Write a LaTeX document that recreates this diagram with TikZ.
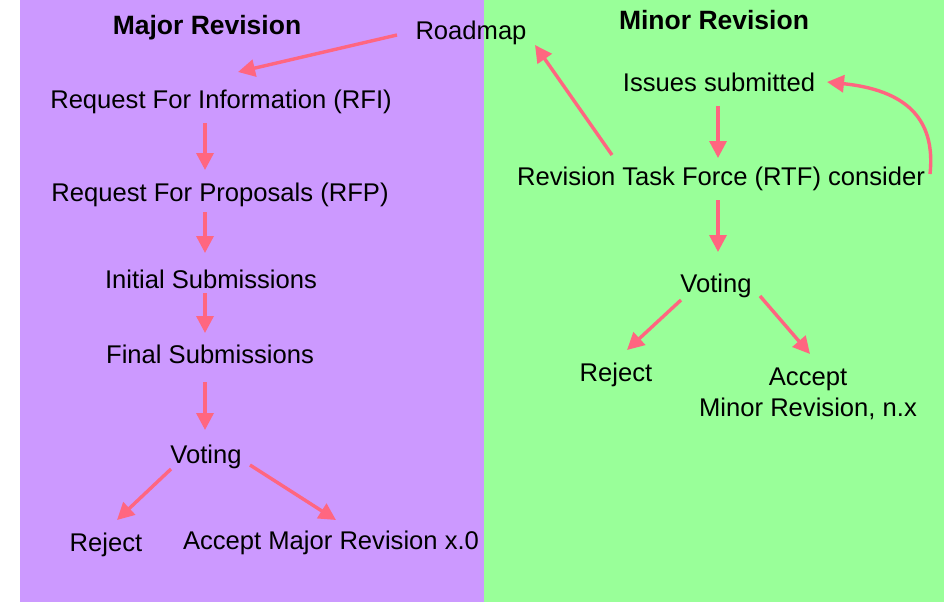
\documentclass[tikz,border=0pt]{standalone}
\usepackage{fontspec}
\setmainfont{Liberation Sans}
\usetikzlibrary{arrows.meta,calc}
\definecolor{purp}{HTML}{CC99FF}
\definecolor{grn}{HTML}{99FF99}
\definecolor{arr}{HTML}{FF6680}
\begin{document}
\begin{tikzpicture}[x=1pt,y=-1pt,
  txt/.style={inner sep=0pt,anchor=base,font=\fontsize{25.6}{31}\selectfont,align=center},
  head/.style={txt,font=\fontsize{26.5}{31}\selectfont\bfseries},
  arrow/.style={draw=arr,line width=3.4pt,-{Triangle[length=17pt,width=17pt]}}]
\useasboundingbox (0,0) rectangle (944,602);
\fill[white] (0,0) rectangle (944,602);
\fill[purp] (20,0) rectangle (484,602);
\fill[grn] (484,0) rectangle (944,602);
% left
\node[head] (majh) at (207,35) {Major Revision};
\node[txt] (road) at (471,40) {Roadmap};
\node[txt] (rfi) at (221,108) {Request For Information (RFI)};
\node[txt] (rfp) at (220,201) {Request For Proposals (RFP)};
\node[txt] (init) at (211,288) {Initial Submissions};
\node[txt] (fin) at (210,363) {Final Submissions};
\node[txt] (votl) at (206,463) {Voting};
\node[txt] (rejl) at (106,551) {Reject};
\node[txt] (accl) at (331,549) {Accept Major Revision x.0};
% right
\node[head] (minh) at (714,30) {Minor Revision};
\node[txt] (iss) at (719,91) {Issues submitted};
\node[txt] (rtf) at (721,185) {Revision Task Force (RTF) consider};
\node[txt] (votr) at (716,292) {Voting};
\node[txt] (rejr) at (616,381) {Reject};
\node[txt,anchor=center] (accr) at (808,394) {Accept\\Minor Revision, n.x};
% arrows
\draw[arrow] ($(road.base)+(-74,-5)$) -- ($(rfi.base)+(17,-36)$);
\draw[arrow] ($(rfi.base)+(-16,15)$) -- ($(rfp.base)+(-15,-31)$);
\draw[arrow] ($(rfp.base)+(-15,11)$) -- ($(init.base)+(-6,-35)$);
\draw[arrow] ($(init.base)+(-6,5)$) -- ($(fin.base)+(-5,-30)$);
\draw[arrow] ($(fin.base)+(-5,19)$) -- ($(votl.base)+(-1,-33)$);
\draw[arrow] ($(votl.base)+(-35,6)$) -- ($(rejl.base)+(11,-31)$);
\draw[arrow] ($(votl.base)+(44,2)$) -- ($(accl.base)+(5,-29)$);
\draw[arrow] ($(iss.base)+(-1,15)$) -- ($(rtf.base)+(-3,-27)$);
\draw[arrow] ($(rtf.base)+(-109,-30)$) -- ($(road.base)+(64,5)$);
\draw[arrow] ($(rtf.base)+(-3,15)$) -- ($(votr.base)+(2,-40)$);
\draw[arrow] ($(votr.base)+(-35,8)$) -- ($(rejr.base)+(11,-31)$);
\draw[arrow] ($(votr.base)+(44,4)$) -- ($(accr.center)+(2,-40)$);
\draw[arrow] ($(rtf.base)+(209,-11)$) .. controls (936,118) and (905,90) .. ($(iss.base)+(108,-9)$);
\end{tikzpicture}
\end{document}
